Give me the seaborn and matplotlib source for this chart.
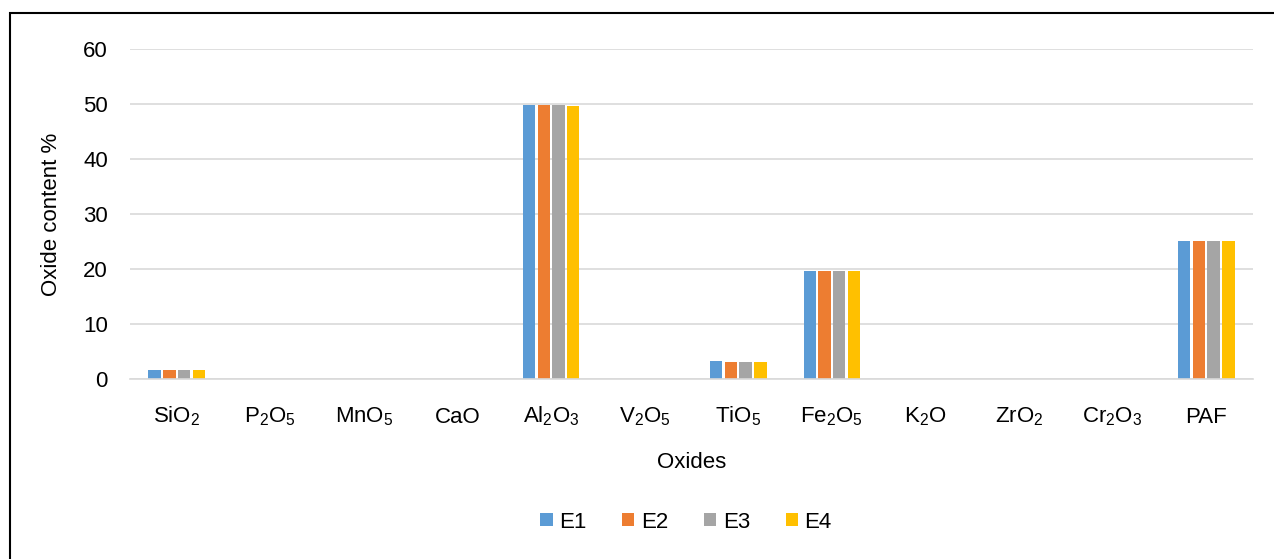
import matplotlib
matplotlib.use("Agg")
import matplotlib.pyplot as plt
import seaborn as sns
import pandas as pd
from matplotlib.patches import Rectangle

# Oxide composition of four samples (wt %)
oxides = [r"$\mathregular{SiO_2}$", r"$\mathregular{P_2O_5}$", r"$\mathregular{MnO_5}$",
          "CaO", r"$\mathregular{Al_2O_3}$", r"$\mathregular{V_2O_5}$",
          r"$\mathregular{TiO_5}$", r"$\mathregular{Fe_2O_5}$", r"$\mathregular{K_2O}$",
          r"$\mathregular{ZrO_2}$", r"$\mathregular{Cr_2O_3}$", "PAF"]
E1 = [1.55, 0, 0, 0, 49.8, 0, 3.2, 19.7, 0, 0, 0, 25.1]
E2 = [1.55, 0, 0, 0, 49.9, 0, 3.1, 19.6, 0, 0, 0, 25.1]
E3 = [1.55, 0, 0, 0, 49.9, 0, 3.1, 19.7, 0, 0, 0, 25.1]
E4 = [1.55, 0, 0, 0, 49.6, 0, 3.1, 19.7, 0, 0, 0, 25.1]
samples = ["E1", "E2", "E3", "E4"]
colors = ["#5B9BD5", "#ED7D31", "#A5A5A5", "#FFC000"]
yticks = [0, 10, 20, 30, 40, 50, 60]

rows = []
for name, vals in zip(samples, [E1, E2, E3, E4]):
    for ox, v in zip(oxides, vals):
        rows.append({"Oxides": ox, "value": v, "sample": name})
df = pd.DataFrame(rows)

sns.set_theme(style="white")
plt.rcParams["font.family"] = ["Liberation Sans", "DejaVu Sans"]
plt.rcParams["mathtext.fontset"] = "custom"
plt.rcParams["mathtext.rm"] = "Liberation Sans"
plt.rcParams["mathtext.it"] = "Liberation Sans"
plt.rcParams["text.color"] = "black"
plt.rcParams["axes.labelcolor"] = "black"

FS = 16
W, H = 1274, 559
fig = plt.figure(figsize=(W / 100, H / 100), dpi=100)
ax = fig.add_axes([130 / W, 1 - 379 / H, 1123 / W, 330 / H])

sns.barplot(data=df, x="Oxides", y="value", hue="sample", order=oxides,
            hue_order=samples, palette=colors, width=0.63, gap=0.16,
            linewidth=0, saturation=1, ax=ax, legend=True)

ax.set_ylim(0, 60)
ax.set_yticks(yticks)
ax.set_xlim(-0.5, len(oxides) - 0.5)
ax.yaxis.grid(True, color="#d9d9d9", linewidth=1.2)
ax.set_axisbelow(True)
for side in ["top", "right", "left"]:
    ax.spines[side].set_visible(False)
ax.spines["bottom"].set_color("#d9d9d9")
ax.spines["bottom"].set_linewidth(1.2)
ax.tick_params(axis="both", length=0, labelsize=FS, colors="black")
# Put all category labels on a common baseline so subscripts hang below it
ax.tick_params(axis="x", pad=31.5)
for lbl in ax.get_xticklabels():
    lbl.set_va("baseline")
ax.tick_params(axis="y", pad=16)
ax.set_xlabel("Oxides", fontsize=FS, color="black")
ax.set_ylabel("Oxide content %", fontsize=FS, color="black")
ax.xaxis.set_label_coords(0.5, (379 - 452) / 330)
ax.yaxis.set_label_coords((62 - 130) / 1123, 0.5)

leg = ax.legend(loc="center", ncol=4, frameon=False, fontsize=FS,
                handlelength=0.55, handleheight=0.55, handletextpad=0.3,
                columnspacing=1.6)
leg.set_bbox_to_anchor((686 / W, 1 - 522 / H), transform=fig.transFigure)
for t in leg.get_texts():
    t.set_color("black")

# Outer frame around the chart area
fig.patches.append(Rectangle((10 / W, -0.05), 1.1, 1 - 13 / H + 0.05,
                             transform=fig.transFigure, fill=False,
                             edgecolor="black", linewidth=1.5))

fig.savefig("out.png", dpi=100)
